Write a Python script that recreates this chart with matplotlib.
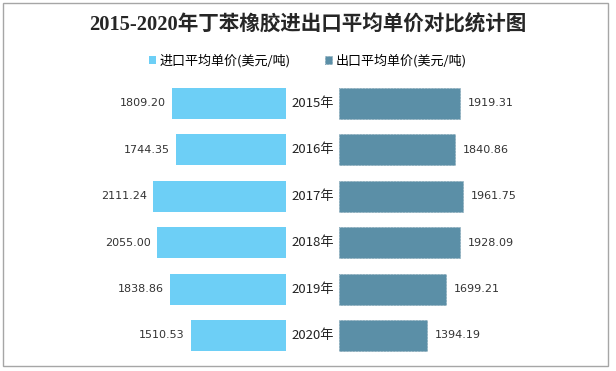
import matplotlib.pyplot as plt
from matplotlib.patches import Rectangle

plt.rcParams['font.family'] = ['DejaVu Sans', 'Noto Sans CJK SC']

# --- DATA ---
years = ['2015年', '2016年', '2017年', '2018年', '2019年', '2020年']
import_price = [1809.20, 1744.35, 2111.24, 2055.00, 1838.86, 1510.53]
export_price = [1919.31, 1840.86, 1961.75, 1928.09, 1699.21, 1394.19]
title = '2015-2020年丁苯橡胶进出口平均单价对比统计图'
label_imp = '进口平均单价(美元/吨)'
label_exp = '出口平均单价(美元/吨)'

C_IMP = '#6DCFF6'
C_EXP = '#5B8FA7'

# --- LAYOUT (pixel based) ---
W, H = 616, 371
PX_PER_UNIT = 0.063
CENTER_PX = 312.5
GAP = 26.5 / PX_PER_UNIT          # half gap between the two bar columns
ROW0_PX, PITCH_PX = 103.5, 46.4

fig = plt.figure(figsize=(W / 100, H / 100), dpi=100)
ax = fig.add_axes([0, 0, 1, 1])
ax.set_xlim(-CENTER_PX / PX_PER_UNIT, (W - CENTER_PX) / PX_PER_UNIT)
ax.set_ylim((H - ROW0_PX) / PITCH_PX, -ROW0_PX / PITCH_PX)
ax.axis('off')

y = list(range(len(years)))
b1 = ax.barh(y, [-v for v in import_price], left=-GAP, height=0.67, color=C_IMP, label=label_imp)
b2 = ax.barh(y, export_price, left=GAP, height=0.67, color=C_EXP, edgecolor='#527f95',
             linestyle=':', linewidth=0.4, label=label_exp)

pad = 6 / PX_PER_UNIT
for i in y:
    ax.text(-GAP - import_price[i] - pad, i, f'{import_price[i]:.2f}', ha='right', va='center',
            fontsize=8, color='#333333')
    ax.text(GAP + export_price[i] + pad * 1.3, i, f'{export_price[i]:.2f}', ha='left', va='center',
            fontsize=8, color='#333333')
    ax.text(0, i, years[i], ha='center', va='center', fontsize=9.5, color='#222222',
            family=['Noto Sans CJK SC'])

fig.text(0.5, 1 - 25 / H, title, ha='center', va='center', fontsize=14.8, fontweight='bold',
         color='#262626', family=['Liberation Serif', 'Noto Sans CJK SC'])

fig.legend(handles=[b1, b2], loc='center', bbox_to_anchor=(0.5, 1 - 61 / H), ncol=2,
           frameon=False, handlelength=0.5, handleheight=0.5, handletextpad=0.3,
           columnspacing=2.6, prop={'family': ['Noto Sans CJK SC'], 'size': 9.4})

# outer frame
fig.patches.append(Rectangle((3 / W, 5 / H), 605 / W, 363 / H, transform=fig.transFigure,
                             fill=False, edgecolor='#a6a6a6', linewidth=1))

fig.savefig('out.png', dpi=100)
